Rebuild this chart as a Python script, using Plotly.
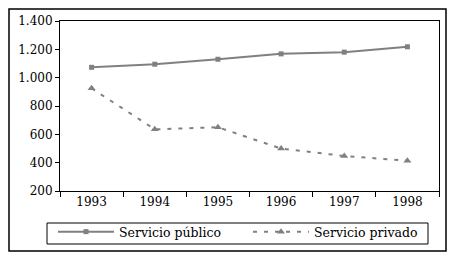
import plotly.graph_objects as go

years = ["1993", "1994", "1995", "1996", "1997", "1998"]
publico = [1073, 1095, 1130, 1168, 1180, 1218]
privado = [925, 635, 650, 500, 447, 414]
y_ticks = [200, 400, 600, 800, 1000, 1200, 1400]

# page body has an 8px margin; figure coordinates are window coordinates minus 8
OFF = 8
W, H = 439, 245
L, R, T, B = 60 - OFF, 439 - OFF, 21 - OFF, 191 - OFF
pw, ph = R - L, B - T

def px(x):
    return (x - OFF - L) / pw

def py(y):
    return (B - (y - OFF)) / ph

gray = "#808080"
font = dict(family="DejaVu Serif", size=12, color="black")

fig = go.Figure()
fig.add_trace(go.Scatter(x=years, y=publico, name="Servicio público", mode="lines+markers",
                         line=dict(color=gray, width=2),
                         marker=dict(symbol="square", size=5, color=gray)))
fig.add_trace(go.Scatter(x=years, y=privado, name="Servicio privado", mode="lines+markers",
                         line=dict(color=gray, width=2, dash="4px,7px"),
                         marker=dict(symbol="triangle-up", size=7, color=gray)))

fig.update_layout(
    width=W, height=H,
    margin=dict(l=L, r=W - R, t=T, b=H - B, pad=0, autoexpand=False),
    paper_bgcolor="white", plot_bgcolor="white",
    separators=",.",
    font=font,
    showlegend=True,
    legend=dict(orientation="h", x=px(53), y=py(217), xanchor="left", yanchor="top",
                borderwidth=0, bgcolor="rgba(0,0,0,0)",
                font=dict(family="DejaVu Serif", size=12.5, color="black"),
                itemwidth=56, entrywidth=124, entrywidthmode="pixels",
                tracegroupgap=0),
    xaxis=dict(type="category", showline=True, linecolor="black", linewidth=1, mirror=True,
               ticks="outside", tickson="boundaries", ticklen=5, tickcolor="black",
               showgrid=False, zeroline=False, tickfont=font, range=[-0.5, 5.5]),
    yaxis=dict(range=[200, 1400], tickvals=y_ticks, tickformat=",d", showline=True,
               linecolor="black", linewidth=1, mirror=True, ticks="outside", ticklen=4,
               tickcolor="black", showgrid=False, zeroline=False, tickfont=font),
    shapes=[dict(type="rect", xref="paper", yref="paper",
                 x0=px(9), x1=px(446), y0=py(251), y1=py(9),
                 line=dict(color="black", width=1.5), fillcolor="rgba(0,0,0,0)", layer="below"),
            dict(type="rect", xref="paper", yref="paper",
                 x0=px(47), x1=px(428), y0=py(244), y1=py(223),
                 line=dict(color="black", width=1), fillcolor="rgba(0,0,0,0)", layer="below")],
)

fig.write_html("out.html")
